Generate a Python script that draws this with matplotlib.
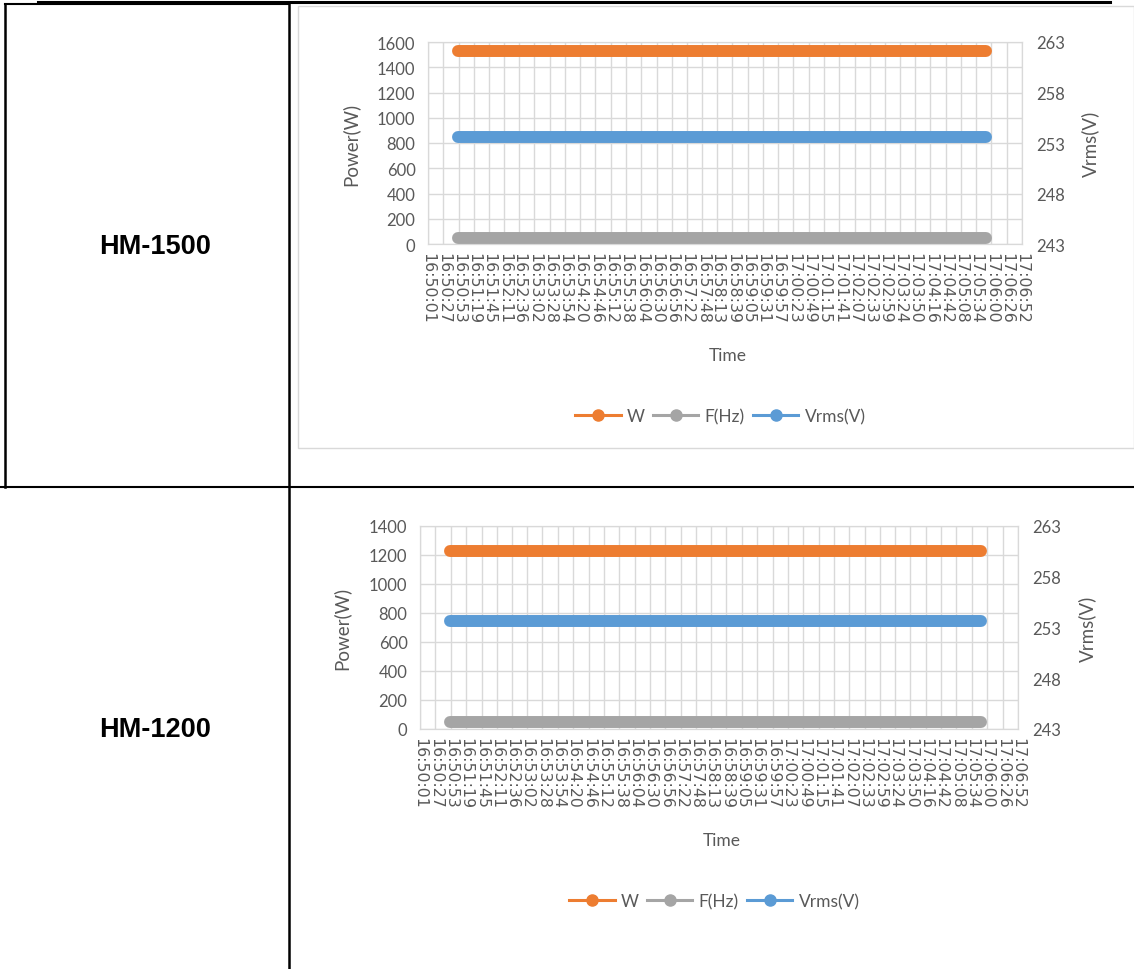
import matplotlib
matplotlib.use("Agg")
import matplotlib.pyplot as plt
from matplotlib.lines import Line2D
from matplotlib.patches import Rectangle

# category labels on the time axis
time_labels = ["16:50:01", "16:50:27", "16:50:53", "16:51:19", "16:51:45", "16:52:11",
               "16:52:36", "16:53:02", "16:53:28", "16:53:54", "16:54:20", "16:54:46",
               "16:55:12", "16:55:38", "16:56:04", "16:56:30", "16:56:56", "16:57:22",
               "16:57:48", "16:58:13", "16:58:39", "16:59:05", "16:59:31", "16:59:57",
               "17:00:23", "17:00:49", "17:01:15", "17:01:41", "17:02:07", "17:02:33",
               "17:02:59", "17:03:24", "17:03:50", "17:04:16", "17:04:42", "17:05:08",
               "17:05:34", "17:06:00", "17:06:26", "17:06:52"]

# measured run (first / last sample)
run_times = ["16:50:52", "17:05:50"]

models = ["HM-1500", "HM-1200"]
power_w = [1530, 1230]       # W
freq_hz = [50, 50]           # F(Hz)
vrms_v = [253.6, 253.6]      # Vrms(V)
power_max = [1600, 1400]
vrms_ticks = [243, 248, 253, 258, 263]

ORANGE = "#ED7D31"
GRAY = "#A5A5A5"
BLUE = "#5B9BD5"
GRID = "#D9D9D9"
TXT = "#595959"

W, H = 1134, 970
fig = plt.figure(figsize=(W / 100, H / 100), dpi=100)


def to_sec(s):
    h, m, sec = s.split(":")
    return int(h) * 3600 + int(m) * 60 + int(sec)


def rect(l, t, r, b):
    return [l / W, 1 - b / H, (r - l) / W, (b - t) / H]


def hline(x0, x1, y, lw=1.8, color="black"):
    fig.add_artist(Line2D([x0 / W, x1 / W], [1 - y / H, 1 - y / H],
                          transform=fig.transFigure, color=color, lw=lw))


def vline(x, y0, y1, lw=1.8, color="black"):
    fig.add_artist(Line2D([x / W, x / W], [1 - y0 / H, 1 - y1 / H],
                          transform=fig.transFigure, color=color, lw=lw))


# table borders
hline(38, 1110, 3, lw=2.2)
hline(5, 289, 5, lw=1.5)
vline(5, 5, 488)
vline(289, 5, 970)
hline(0, 1134, 488, lw=1.5)

# outer frame of the first chart
fig.add_artist(Rectangle((298 / W, 1 - 449 / H), (1134 - 298) / W, (449 - 7) / H,
                         transform=fig.transFigure, fill=False, ec=GRID, lw=1))

secs = [to_sec(t) for t in time_labels]
run_x = [to_sec(t) for t in run_times]

layout = [
    dict(ax=(428, 43, 1022, 245), label_y=247, ylab_x=350, yr_x=1090, time_y=356, leg_y=417),
    dict(ax=(420, 527, 1018, 730), label_y=730, ylab_x=341, yr_x=1087, time_y=841, leg_y=902),
]

for i, lay in enumerate(layout):
    ax = fig.add_axes(rect(*lay["ax"]))
    ax.plot(run_x, [power_w[i]] * 2, color=ORANGE, lw=8.6, solid_capstyle="round", zorder=3)
    ax.plot(run_x, [freq_hz[i]] * 2, color=GRAY, lw=8.6, solid_capstyle="round", zorder=3)
    ax.set_xlim(secs[0], secs[-1])
    ax.set_ylim(0, power_max[i])
    ax.set_yticks(range(0, power_max[i] + 1, 200))
    ax.set_xticks(secs)
    ax.set_xticklabels(time_labels, rotation=-90, fontsize=11.3, color=TXT,
                       family="DejaVu Sans")
    ax.tick_params(axis="x", length=0, pad=6)
    ax.tick_params(axis="y", length=0, pad=9, labelsize=12, labelcolor=TXT)
    for lab in ax.get_yticklabels():
        lab.set_family("Lato")
    ax.grid(True, color=GRID, lw=1)
    ax.set_axisbelow(True)
    for sp in ax.spines.values():
        sp.set_color(GRID)

    ax2 = ax.twinx()
    ax2.plot(run_x, [vrms_v[i]] * 2, color=BLUE, lw=8.6, solid_capstyle="round", zorder=3)
    ax2.set_ylim(vrms_ticks[0], vrms_ticks[-1])
    ax2.set_yticks(vrms_ticks)
    ax2.tick_params(axis="y", length=0, pad=10, labelsize=12, labelcolor=TXT)
    for lab in ax2.get_yticklabels():
        lab.set_family("Lato")
    for sp in ax2.spines.values():
        sp.set_color(GRID)

    cy = (lay["ax"][1] + lay["ax"][3]) / 2
    cx = (lay["ax"][0] + lay["ax"][2]) / 2
    fig.text(lay["ylab_x"] / W, 1 - cy / H, "Power(W)", rotation=90, ha="center",
             va="center", fontsize=13.5, color=TXT, family="Lato")
    fig.text(lay["yr_x"] / W, 1 - cy / H, "Vrms(V)", rotation=90, ha="center",
             va="center", fontsize=13.5, color=TXT, family="Lato")
    fig.text(cx / W + 0.002, 1 - lay["time_y"] / H, "Time", ha="center", va="center",
             fontsize=12.5, color=TXT, family="Lato")

    handles = [Line2D([], [], color=c, lw=2.2, marker="o", ms=8) for c in (ORANGE, GRAY, BLUE)]
    fig.legend(handles, ["W", "F(Hz)", "Vrms(V)"], loc="center",
               bbox_to_anchor=(cx / W - 0.004, 1 - lay["leg_y"] / H), ncol=3, frameon=False,
               handlelength=2.6, handletextpad=0.35, columnspacing=0.5,
               prop={"family": "Lato", "size": 12.5}, labelcolor=TXT)

    fig.text(155 / W, 1 - lay["label_y"] / H, models[i], ha="center", va="center",
             fontsize=19.5, fontweight="bold", family="Liberation Sans")

fig.savefig("out.png", dpi=100)
